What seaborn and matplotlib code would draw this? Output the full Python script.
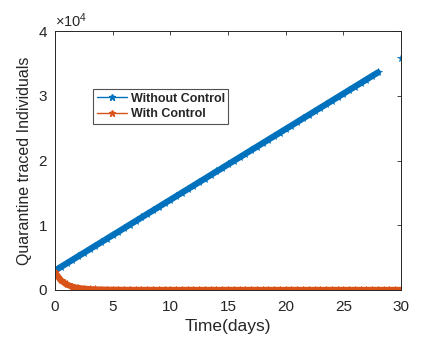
import numpy as np
import pandas as pd
import matplotlib
matplotlib.use("Agg")
import matplotlib.pyplot as plt
import seaborn as sns
from matplotlib.ticker import ScalarFormatter
from matplotlib.lines import Line2D

# Données (pas de 0.5 jour)
time_days = [0, 0.5, 1, 1.5, 2, 2.5, 3, 3.5, 4, 4.5, 5, 5.5, 6, 6.5, 7, 7.5,
             8, 8.5, 9, 9.5, 10, 10.5, 11, 11.5, 12, 12.5, 13, 13.5, 14, 14.5,
             15, 15.5, 16, 16.5, 17, 17.5, 18, 18.5, 19, 19.5, 20, 20.5, 21,
             21.5, 22, 22.5, 23, 23.5, 24, 24.5, 25, 25.5, 26, 26.5, 27, 27.5,
             28, 28.5, 29, 29.5, 30]

without_control = [3000, 3550, 4090, 4640, 5190, 5730, 6280, 6830, 7370, 7920,
                   8470, 9010, 9560, 10110, 10650, 11200, 11750, 12290, 12840,
                   13390, 13930, 14480, 15030, 15570, 16120, 16670, 17210, 17760,
                   18310, 18850, 19400, 19950, 20490, 21040, 21590, 22130, 22680,
                   23230, 23770, 24320, 24870, 25410, 25960, 26510, 27050, 27600,
                   28150, 28690, 29240, 29790, 30330, 30880, 31430, 31970, 32520,
                   33070, 33610, np.nan, np.nan, np.nan, 35800]

with_control = [2700, 1500, 850, 500, 300, 190, 120, 80, 50, 35, 25, 18, 12, 8,
                5, 3, 2, 1, 0, 0, 0, 0, 0, 0, 0, 0, 0, 0, 0, 0, 0, 0, 0, 0, 0, 0,
                0, 0, 0, 0, 0, 0, 0, 0, 0, 0, 0, 0, 0, 0, 0, 0, 0, 0, 0, 0, 0, 0,
                0, 0, 0]

series_names = ["Without Control", "With Control"]
colors = ["#0072BD", "#D95319"]

sns.set_theme(style="white")
plt.rcParams["font.family"] = ["Liberation Sans", "DejaVu Sans"]
plt.rcParams["mathtext.fontset"] = "custom"
plt.rcParams["mathtext.rm"] = "Liberation Sans"

df = pd.DataFrame({
    "time": time_days * 2,
    "value": without_control + with_control,
    "serie": [series_names[0]] * len(time_days) + [series_names[1]] * len(time_days),
})

fig = plt.figure(figsize=(4.23, 3.46), dpi=100)
ax = fig.add_axes([0.130, 0.162, 0.818, 0.748])

# ax.plot garde les trous (NaN) que seaborn supprime
for name, col in zip(series_names, colors):
    sub = df[df["serie"] == name]
    ax.plot(sub["time"], sub["value"], color=col, lw=4.5, marker="*",
            markersize=5.5, markeredgewidth=0.6, label=name)

ax.set_xlim(0, 30)
ax.set_ylim(0, 40000)
ax.set_xticks([0, 5, 10, 15, 20, 25, 30])
ax.set_yticks([0, 10000, 20000, 30000, 40000])
fmt = ScalarFormatter(useMathText=True)
fmt.set_powerlimits((0, 0))
ax.yaxis.set_major_formatter(fmt)
ax.yaxis.get_offset_text().set_fontsize(10.5)
ax.yaxis.get_offset_text().set_color("#262626")

ax.tick_params(direction="in", length=3, width=0.6, top=True, right=True,
               labelsize=11, colors="#262626")
ax.tick_params(axis="x", pad=7)
ax.tick_params(axis="y", pad=5)
for s in ax.spines.values():
    s.set_color("#262626")
    s.set_linewidth(0.7)

ax.set_xlabel("Time(days)", fontsize=12.5, color="#262626", labelpad=4)
ax.set_ylabel("Quarantine traced Individuals", fontsize=11.5, color="#262626",
              labelpad=4)

# légende : lignes fines comme dans la figure
handles = [Line2D([], [], color=c, lw=1, marker="*", markersize=5) for c in colors]
leg = ax.legend(handles, series_names, loc="upper left",
                bbox_to_anchor=(0.11, 0.776), fancybox=False, frameon=True,
                edgecolor="#262626", prop={"size": 9, "weight": "bold"},
                borderpad=0.3, handlelength=2.4, labelspacing=0.25,
                handletextpad=0.3, borderaxespad=0)
leg.get_frame().set_linewidth(0.8)

fig.savefig("out.png", dpi=100)
